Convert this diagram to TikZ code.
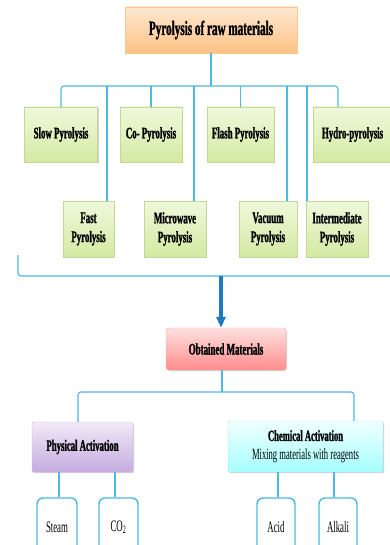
\documentclass[tikz,border=0pt]{standalone}
\usepackage{fontspec}
\setmainfont{Liberation Serif}
\newfontfamily\cf[FakeStretch=0.55, BoldFeatures={FakeBold=1.2}]{Liberation Serif}
\usetikzlibrary{shadows,arrows.meta}
\definecolor{conncol}{HTML}{4DB8E4}
\definecolor{arrowcol}{HTML}{1F7BBF}
\definecolor{gtop}{HTML}{F0F8DC}
\definecolor{gbot}{HTML}{D3EAA2}
\definecolor{gdraw}{HTML}{C2D897}
\definecolor{ptop}{HTML}{F1E9F8}
\definecolor{pbot}{HTML}{C4ACDF}
\tikzset{
  conn/.style={draw=conncol, line width=1.1pt},
  bx/.style={rectangle, align=center, inner sep=1pt,
    drop shadow={shadow xshift=1pt, shadow yshift=-1.2pt, opacity=0.35}},
  topbox/.style={bx, draw=orange!45, top color=orange!18, bottom color=orange!48!white,
    minimum width=172pt, minimum height=46pt, font=\cf\bfseries\fontsize{20.3}{22}\selectfont},
  greenbox/.style={bx, draw=gdraw, top color=gtop, bottom color=gbot,
    minimum height=55pt, font=\cf\bfseries\fontsize{16.1}{19}\selectfont},
  pinkbox/.style={bx, rounded corners=3pt, draw=red!35, top color=red!12, bottom color=red!45!white,
    minimum width=120pt, minimum height=42pt, font=\cf\bfseries\fontsize{16.2}{18}\selectfont},
  purplebox/.style={bx, rounded corners=2pt, draw=violet!30, top color=ptop, bottom color=pbot,
    minimum width=101pt, minimum height=50pt, font=\cf\bfseries\fontsize{15.9}{18}\selectfont},
  cyanbox/.style={bx, rounded corners=2pt, draw=cyan!35, top color=cyan!6, bottom color=cyan!35!white,
    minimum width=155pt, minimum height=51pt, font=\cf\fontsize{15.6}{18.5}\selectfont},
  leafbox/.style={rectangle, rounded corners=6pt, draw=conncol, line width=1.4pt, fill=white,
    minimum height=60pt, text height=9pt, font=\cf\fontsize{16}{18}\selectfont}
}
\begin{document}
\begin{tikzpicture}[x=1pt,y=-1pt]
\useasboundingbox (0,0) rectangle (390,545);
\clip (0,0) rectangle (390,545);
\fill[white] (0,0) rectangle (390,545);

% top
\node[topbox] (top) at (211,30) {Pyrolysis of raw materials};

% row 1
\node[greenbox, minimum width=73pt] (slow) at (61,134.5) {Slow Pyrolysis};
\node[greenbox, minimum width=62pt] (co) at (151,134.5) {Co- Pyrolysis};
\node[greenbox, minimum width=67pt] (flash) at (240.5,134.5) {Flash Pyrolysis};
\node[greenbox, minimum width=79pt] (hydro) at (352.5,134.5) {Hydro-pyrolysis};
% row 2
\node[greenbox, minimum width=51pt, minimum height=56pt] (fast) at (88.5,229) {Fast\\Pyrolysis};
\node[greenbox, minimum width=62pt, minimum height=56pt] (micro) at (175,229) {Microwave\\Pyrolysis};
\node[greenbox, minimum width=58pt, minimum height=56pt] (vac) at (268,229) {Vacuum\\Pyrolysis};
\node[greenbox, minimum width=62pt, minimum height=56pt] (inter) at (337,229) {Intermediate\\Pyrolysis};

% bar
\coordinate (bL) at (61,86);
\draw[conn] (top.south) -- (top.south |- bL);
\draw[conn, rounded corners=3pt] (slow.north) -- (bL) -- ([xshift=-14.5pt]hydro.north |- bL) -- ([xshift=-14.5pt]hydro.north);
\draw[conn] (co.north) -- (co.north |- bL);
\draw[conn] (flash.north) -- (flash.north |- bL);
\draw[conn] ([xshift=18.5pt]fast.north) -- ([xshift=18.5pt]fast.north |- bL);
\draw[conn] ([xshift=19pt]micro.north) -- ([xshift=19pt]micro.north |- bL);
\draw[conn] ([xshift=19pt]vac.north) -- ([xshift=19pt]vac.north |- bL);
\draw[conn] ([xshift=-30pt]inter.north) -- ([xshift=-30pt]inter.north |- bL);

% bracket
\coordinate (brL) at (18,255);
\coordinate (brR) at (395,276);
\draw[conn, rounded corners=3pt] (brL) |- (brR);

% obtained
\node[pinkbox] (obt) at (226,349) {Obtained Materials};
\coordinate (arS) at (221,276);
\draw[arrowcol, line width=4.5pt, -{Triangle[width=9pt,length=11pt]}] (arS) -- (arS |- obt.north);

% activations
\node[purplebox] (phys) at (82.5,447) {Physical Activation};
\node[cyanbox] (chem) at (305.5,446.5) {{\bfseries Chemical Activation}\\Mixing materials with reagents};
\coordinate (sp) at (222,392);
\draw[conn] ([xshift=-4pt]obt.south) -- (sp);
\draw[conn, rounded corners=3pt] ([xshift=-4.5pt]phys.north) |- (sp) -| ([xshift=48.5pt]chem.north);

% leaves
\node[leafbox, minimum width=40pt] (steam) at (57,528) {Steam};
\node[leafbox, minimum width=39pt] (co2) at (118.5,528) {CO\textsubscript{2}};
\node[leafbox, minimum width=38pt] (acid) at (276,528) {Acid};
\node[leafbox, minimum width=38pt] (alkali) at (338,528) {Alkali};
\draw[conn] ([xshift=2pt]steam.north) -- ([xshift=2pt]steam.north |- phys.south);
\draw[conn] ([xshift=-3.5pt]co2.north) -- ([xshift=-3.5pt]co2.north |- phys.south);
\draw[conn] ([xshift=2pt]acid.north) -- ([xshift=2pt]acid.north |- chem.south);
\draw[conn] ([xshift=-4pt]alkali.north) -- ([xshift=-4pt]alkali.north |- chem.south);
\end{tikzpicture}
\end{document}
